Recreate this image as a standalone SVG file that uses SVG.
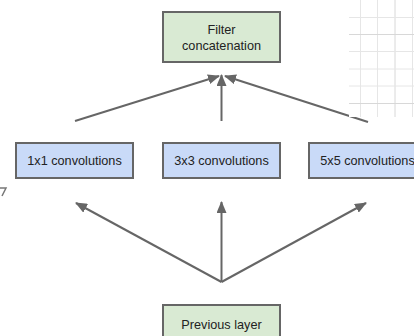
<svg xmlns="http://www.w3.org/2000/svg" width="414" height="336" viewBox="0 0 414 336">
<defs>
<style>
.g{fill:#d9ead3;stroke:#666;stroke-width:2}
.b{fill:#c9daf8;stroke:#666;stroke-width:2}
.t{font-family:"Liberation Sans",Arial,sans-serif;font-size:12.7px;fill:#222;text-anchor:middle}
.e{stroke:#666;stroke-width:2;fill:none}
.grid line{stroke:#e6e6e6;stroke-width:1}
</style>
<marker id="ah" viewBox="0 0 12 10" refX="11" refY="5" markerWidth="12" markerHeight="10" markerUnits="userSpaceOnUse" orient="auto">
<path d="M0,0 L12,5 L0,10 Z" fill="#666"/>
</marker>
</defs>
<rect width="414" height="336" fill="#fff"/>
<g id="connectors">
<line class="e" x1="75" y1="121" x2="219" y2="76" marker-end="url(#ah)"/>
<line class="e" x1="221.5" y1="121" x2="221.5" y2="75" marker-end="url(#ah)"/>
<line class="e" x1="368" y1="122" x2="225" y2="76" marker-end="url(#ah)"/>
<line class="e" x1="221.5" y1="282" x2="76" y2="203" marker-end="url(#ah)"/>
<line class="e" x1="221.5" y1="282" x2="221.5" y2="202" marker-end="url(#ah)"/>
<line class="e" x1="221.5" y1="282" x2="366" y2="203" marker-end="url(#ah)"/>
</g>
<g class="grid">
<rect x="349" y="0" width="65" height="117" fill="#fff"/>
<line x1="360.5" y1="0" x2="360.5" y2="117"/>
<line x1="377.5" y1="0" x2="377.5" y2="117"/>
<line x1="395" y1="0" x2="395" y2="117" style="stroke:#d8d8d8"/>
<line x1="412.5" y1="0" x2="412.5" y2="117"/>
<line x1="349" y1="17.5" x2="414" y2="17.5"/>
<line x1="349" y1="34.5" x2="414" y2="34.5" style="stroke:#d8d8d8"/>
<line x1="349" y1="51.5" x2="414" y2="51.5"/>
<line x1="349" y1="69" x2="414" y2="69"/>
<line x1="349" y1="86" x2="414" y2="86"/>
<line x1="349" y1="103.5" x2="414" y2="103.5" style="stroke:#d8d8d8"/>
</g>
<g id="filter-concat">
<rect class="g" x="163" y="12" width="117" height="50"/>
<text class="t" x="221.5" y="34">Filter</text>
<text class="t" x="221.5" y="50">concatenation</text>
</g>
<g id="conv1x1">
<rect class="b" x="16" y="143" width="117" height="35"/>
<text class="t" x="74.5" y="165">1x1 convolutions</text>
</g>
<g id="conv3x3">
<rect class="b" x="163" y="143" width="117" height="35"/>
<text class="t" x="221.5" y="165">3x3 convolutions</text>
</g>
<g id="conv5x5">
<rect class="b" x="309" y="143" width="117" height="35"/>
<text class="t" x="367.5" y="165">5x5 convolutions</text>
</g>
<g id="previous-layer">
<rect class="g" x="163" y="305" width="117" height="50"/>
<text class="t" x="221.5" y="329">Previous layer</text>
</g>
<polyline points="0,188 6,188 2,196" fill="none" stroke="#777" stroke-width="1.5"/>
</svg>
